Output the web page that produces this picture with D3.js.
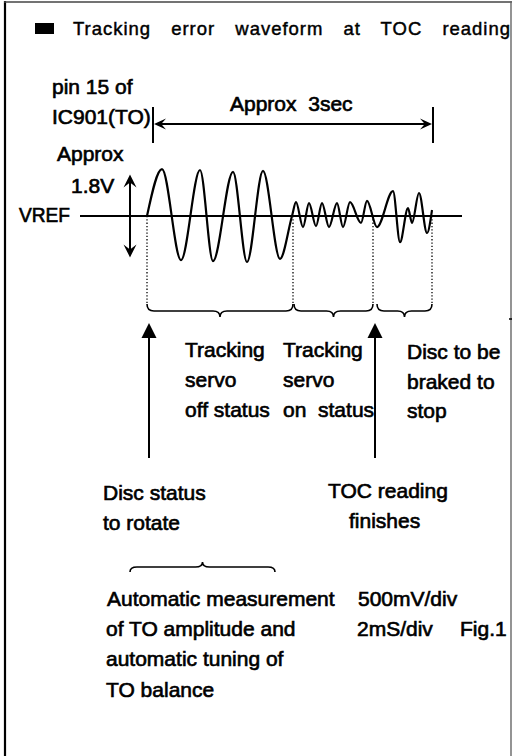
<!DOCTYPE html>
<html><head><meta charset="utf-8">
<script src="https://cdn.jsdelivr.net/npm/d3@7"></script>
<style>html,body{margin:0;padding:0;background:#fff}svg{display:block}</style>
</head><body><svg id="c" width="512" height="756"></svg>
<script>
// ---- data ----
const waveT = [0,15,34,53,66,86,100,116,133,145,149,156,162,169,175,182,190,196,203,214,220,230,246,253,261,265,272,280,285];
const waveV = [0,1.02,-0.96,1.00,-0.98,0.96,-1.00,0.98,-0.93,0,0.30,-0.24,0.28,-0.22,0.28,-0.24,0.28,-0.24,0.30,-0.15,0.33,-0.24,0.54,-0.57,0.17,-0.15,0.50,-0.37,0.13];
const phaseBounds = [0,146,226,285];
const braceStarts = [0,147,230];
const braceEnds = [146,226,285];
const eventTimes = [2,228];
const sweepStart = 6, sweepEnd = 286;
const amplitudeV = 0.9;
const titleText = "Tracking error waveform at TOC reading";
const phaseLabels = [["Tracking","servo","off status"],["Tracking","servo","on  status"],["Disc to be","braked to","stop"]];
const eventLabels = [["Disc status","to rotate"],["TOC reading","finishes"]];
const noteLines = ["Automatic measurement","of TO amplitude and","automatic tuning of","TO balance"];
const scaleLabels = ["500mV/div","2mS/div"];

// ---- drawing ----
const svg = d3.select("#c");
const x = d3.scaleLinear().domain([0,285]).range([147,432]);
const y = d3.scaleLinear().domain([-1,1]).range([262,170]);
const FONT = "'Liberation Sans', Arial, sans-serif";

// frame
svg.append("line").attr("x1",5).attr("x2",5).attr("y1",1).attr("y2",756).attr("stroke","#000").attr("stroke-width",2.2);
svg.append("line").attr("x1",4).attr("x2",512).attr("y1",2).attr("y2",2).attr("stroke","#444").attr("stroke-width",1.4);
svg.append("line").attr("x1",511).attr("x2",511).attr("y1",1).attr("y2",756).attr("stroke","#666").attr("stroke-width",1.4);
svg.append("line").attr("x1",509).attr("x2",512).attr("y1",319).attr("y2",319).attr("stroke","#000").attr("stroke-width",1.5);

function txt(s,px,py,size){
  return svg.append("text").attr("x",px).attr("y",py).text(s)
    .attr("font-family",FONT).attr("font-size",size||21)
    .attr("fill","#000").attr("stroke","#000").attr("stroke-width",0.65)
    .style("white-space","pre");
}

// title
svg.append("rect").attr("x",35).attr("y",23).attr("width",19).attr("height",11).attr("fill","#000");
txt(titleText,73,35,18.5).attr("word-spacing",14).attr("textLength",437).attr("lengthAdjust","spacing").attr("stroke-width",0.45);

// left labels
txt("pin 15 of",52,94);
txt("IC901(TO)",52,124);
txt("Approx  3sec",230,111);
txt("Approx",57,161);
txt("1.8V",71,193);
txt("VREF",19,222).attr("textLength",51).attr("lengthAdjust","spacingAndGlyphs");

// arrowhead (stealth) path at tip, direction angle
function head(tx,ty,ang,L,W){
  const c=Math.cos(ang), s=Math.sin(ang);
  const p=(a,b)=>[tx + a*c - b*s, ty + a*s + b*c];
  const pts=[p(0,0),p(-L,-W),p(-L*0.6,0),p(-L,W)];
  svg.append("path").attr("d","M"+pts.map(q=>q.join(",")).join("L")+"Z").attr("fill","#000");
}

// sweep dimension arrow
const xs0 = x(sweepStart), xs1 = x(sweepEnd);
[xs0,xs1].forEach(v=>svg.append("line").attr("x1",v).attr("x2",v).attr("y1",107).attr("y2",143).attr("stroke","#000").attr("stroke-width",2));
svg.append("line").attr("x1",xs0+4).attr("x2",xs1-4).attr("y1",124).attr("y2",124).attr("stroke","#000").attr("stroke-width",2);
head(xs0+1,124,Math.PI,12,5.5);
head(xs1-1,124,0,12,5.5);

// amplitude double arrow
const ax = 130;
svg.append("line").attr("x1",ax).attr("x2",ax).attr("y1",y(amplitudeV)+6).attr("y2",y(-amplitudeV)-6).attr("stroke","#000").attr("stroke-width",2);
head(ax,y(amplitudeV),-Math.PI/2,13,6.5);
head(ax,y(-amplitudeV),Math.PI/2,13,6.5);

// VREF line
svg.append("line").attr("x1",x(-67)).attr("x2",x(315)).attr("y1",y(0)).attr("y2",y(0)).attr("stroke","#000").attr("stroke-width",2);

// dotted phase boundaries
phaseBounds.forEach(t=>{
  svg.append("line").attr("x1",x(t)).attr("x2",x(t)).attr("y1",y(0)).attr("y2",305)
    .attr("stroke","#000").attr("stroke-width",1.3).attr("stroke-dasharray","1.3,2");
});

// waveform
const line = d3.line().x((d,i)=>x(waveT[i])).y((d,i)=>y(waveV[i])).curve(d3.curveMonotoneX);
svg.append("path").attr("d",line(waveT)).attr("fill","none").attr("stroke","#000").attr("stroke-width",2.2);

// braces
function brace(x1,x2,yEnd,yMain,yTip){
  const m=(x1+x2)/2, r=7;
  const d=`M${x1},${yEnd} Q${x1},${yMain} ${x1+r},${yMain} L${m-r},${yMain} Q${m},${yMain} ${m},${yTip} Q${m},${yMain} ${m+r},${yMain} L${x2-r},${yMain} Q${x2},${yMain} ${x2},${yEnd}`;
  svg.append("path").attr("d",d).attr("fill","none").attr("stroke","#000").attr("stroke-width",1.6);
}
braceStarts.forEach((s,i)=>brace(x(s),x(braceEnds[i]),304,311,317));
brace(130,275,572,567,562);

// event arrows
eventTimes.forEach(t=>{
  const ex=x(t);
  svg.append("line").attr("x1",ex).attr("x2",ex).attr("y1",336).attr("y2",458).attr("stroke","#000").attr("stroke-width",2);
  svg.append("path").attr("d",`M${ex},323 L${ex-7.5},338 L${ex+7.5},338 Z`).attr("fill","#000");
});

// phase labels
const phaseX=[185,283,407], phaseY=[[357,387,417],[357,387,417],[359,389,418]];
phaseLabels.forEach((ls,i)=>ls.forEach((s,j)=>txt(s,phaseX[i],phaseY[i][j])));

// event labels
txt(eventLabels[0][0],103,500); txt(eventLabels[0][1],103,530);
txt(eventLabels[1][0],328,498); txt(eventLabels[1][1],349,528);

// notes
const noteY=[606,636,666,697];
noteLines.forEach((s,i)=>txt(s,i===0?107:106,noteY[i]));
txt(scaleLabels[0],358,606);
txt(scaleLabels[1],357,636);
txt("Fig.1",460,636);
</script></body></html>
